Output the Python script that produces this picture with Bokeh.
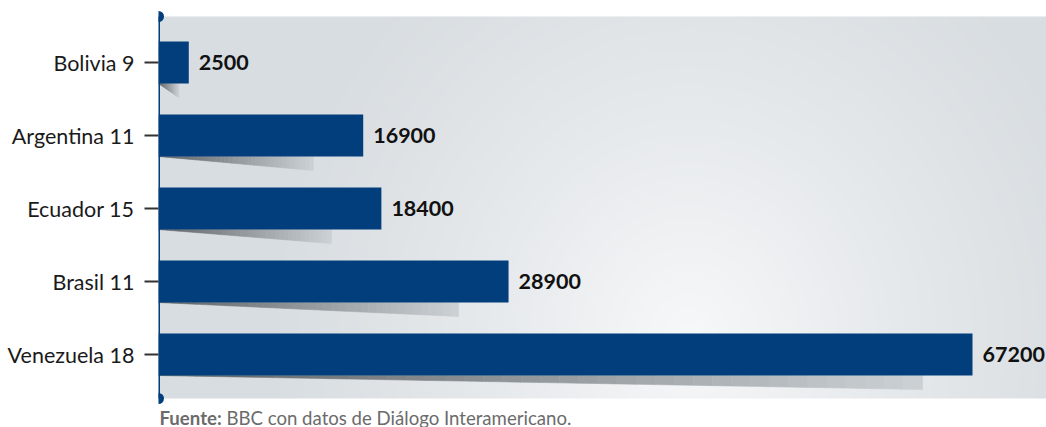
import numpy as np
from bokeh.plotting import figure
from bokeh.models import Range1d, Label, FixedTicker
from bokeh.core.properties import value
from bokeh.embed import file_html
from bokeh.resources import INLINE

# ---- data ----
categories = ["Venezuela 18", "Brasil 11", "Ecuador 15", "Argentina 11", "Bolivia 9"]
values = [67200, 28900, 18400, 16900, 2500]
value_labels = ["67200", "28900", "18400", "16900", "2500"]
source_bold = "Fuente:"
source_text = "BBC con datos de Diálogo Interamericano."

# ---- styles ----
NAVY = "#023e7c"
W, H = 1046, 427
FL = 158                     # frame left in canvas px
FW, FH = W - FL, H           # frame size
PX_PER_UNIT = 814 / 67200.0  # x pixels per data unit
PX_PER_ROW = 73.0
ROW0_PX = 354.0              # canvas y of first row centre

x_end = FW / PX_PER_UNIT
y_start = -(H - ROW0_PX) / PX_PER_ROW
y_end = ROW0_PX / PX_PER_ROW


def ypix(py):
    """canvas pixel (from top) -> data y"""
    return (ROW0_PX - py) / PX_PER_ROW


p = figure(width=W, height=H, output_backend="svg", toolbar_location=None,
           x_range=Range1d(0, x_end), y_range=Range1d(y_start, y_end),
           min_border_left=FL, min_border_right=0, min_border_top=0,
           min_border_bottom=0)
p.xaxis.visible = False
p.grid.visible = False
p.outline_line_color = None
p.background_fill_color = "white"
p.border_fill_color = "white"

# ---- background radial gradient (grey panel) ----
bg_top = ypix(16)
bg_bot = ypix(398)
bw, bh = FW // 2, int(round((398 - 16) / 2))
xx, yy = np.meshgrid(np.arange(bw) * 2.0, np.arange(bh) * 2.0)  # yy from bottom
cx, cy = 530.0, 60.0
r = np.sqrt(((xx - cx) / 440.0) ** 2 + ((yy - cy) / 480.0) ** 2)
f = np.clip(1 - r, 0, 1) ** 1.2
edge = np.array([216, 221, 225.0])
cen = np.array([247, 248, 249.0])
rgb = edge[None, None, :] + (cen - edge)[None, None, :] * f[..., None]
img = np.empty((bh, bw), dtype=np.uint32)
view = img.view(dtype=np.uint8).reshape((bh, bw, 4))
view[..., 0] = rgb[..., 0].astype(np.uint8)
view[..., 1] = rgb[..., 1].astype(np.uint8)
view[..., 2] = rgb[..., 2].astype(np.uint8)
view[..., 3] = 255
p.image_rgba(image=[img], x=0, y=bg_bot, dw=x_end, dh=bg_top - bg_bot)

# ---- shadows (gradient wedges under bars) ----
bar_h = 42 / PX_PER_ROW
depth = 14 / PX_PER_ROW
N = 40
c0 = np.array([92, 97, 102.0])
c1 = np.array([205, 210, 214.0])
xs_list, ys_list, cols = [], [], []
for i, v in enumerate(values):
    s = v - min(50 / PX_PER_UNIT, 0.33 * v)
    yb = i - bar_h / 2
    for k in range(N):
        x0, x1 = s * k / N, s * (k + 1) / N
        xs_list.append([x0, x1, x1, x0])
        ys_list.append([yb, yb, yb - depth * x1 / s, yb - depth * x0 / s])
        t = (k + 0.5) / N
        c = (c0 + (c1 - c0) * t).astype(int)
        cols.append("#%02x%02x%02x" % tuple(c))
p.patches(xs_list, ys_list, fill_color=cols, line_color=cols, line_width=0.6)

# ---- bars ----
ys = list(range(len(categories)))
p.hbar(y=ys, left=0, right=values, height=bar_h, fill_color=NAVY, line_color=None)

# ---- value labels ----
p.text(x=values, y=ys, text=value_labels, x_offset=10, text_baseline="middle",
       text_align="left", text_font=value("Lato"), text_font_style="bold",
       text_font_size="21.5px", text_color="#111111")

# ---- axis line with dots ----
p.segment(x0=[0], y0=[bg_bot], x1=[0], y1=[bg_top], line_color=NAVY, line_width=3)
p.scatter(x=[0, 0], y=[bg_bot, bg_top], size=11, fill_color=NAVY, line_color=None)

# ---- y axis ----
yax = p.yaxis[0]
yax.ticker = FixedTicker(ticks=ys)
yax.major_label_overrides = {i: c for i, c in enumerate(categories)}
yax.axis_line_color = None
yax.minor_tick_line_color = None
yax.major_tick_in = 0
yax.major_tick_out = 14
yax.major_tick_line_color = "#333333"
yax.major_tick_line_width = 2
yax.major_label_standoff = 10
yax.major_label_text_font = "Lato"
yax.major_label_text_font_size = "21.5px"
yax.major_label_text_color = "#1a1a1a"

# ---- source footer ----
fy = ypix(417)
p.add_layout(Label(x=0, y=fy, x_offset=1, text=source_bold, text_font="Lato",
                   text_font_style="bold", text_font_size="18.6px",
                   text_color="#6b6b6b", text_baseline="alphabetic"))
p.add_layout(Label(x=0, y=fy, x_offset=68, text=source_text, text_font="Lato",
                   text_font_size="18.6px", text_color="#6b6b6b",
                   text_baseline="alphabetic"))

open("out.html", "w").write(file_html(p, INLINE))
